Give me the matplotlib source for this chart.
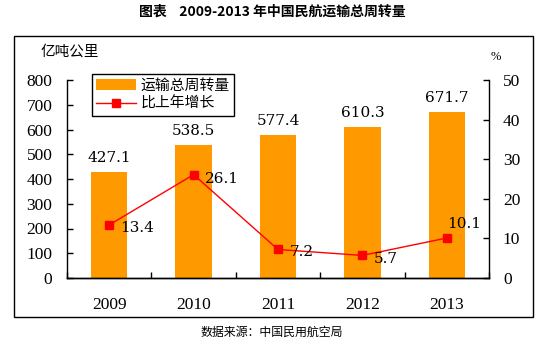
import matplotlib
matplotlib.use("Agg")
import matplotlib.pyplot as plt
from matplotlib.patches import Rectangle

plt.rcParams['font.family'] = ['Noto Sans CJK SC', 'DejaVu Sans']

# data
years = ['2009', '2010', '2011', '2012', '2013']
turnover = [427.1, 538.5, 577.4, 610.3, 671.7]   # 亿吨公里
growth = [13.4, 26.1, 7.2, 5.7, 10.1]            # %
left_ticks = [0, 100, 200, 300, 400, 500, 600, 700, 800]
right_ticks = [0, 10, 20, 30, 40, 50]

BAR_COLOR = '#FF9900'
LINE_COLOR = '#FF0000'
NUM_FONT = 'Liberation Serif'
VAL_FONT = 'DejaVu Serif'

W, H = 554, 346
fig = plt.figure(figsize=(W / 100, H / 100), dpi=100)

# outer frame around the chart
fig.add_artist(Rectangle((14 / W, 1 - 317 / H), 519 / W, 281 / H,
                         transform=fig.transFigure, fill=False,
                         edgecolor='black', linewidth=1.0))

ax = fig.add_axes([67 / W, 1 - 278 / H, 422 / W, 198 / H])
ax2 = ax.twinx()

x = list(range(len(years)))
bars = ax.bar(x, turnover, width=0.43, color=BAR_COLOR, label='运输总周转量', zorder=2)
line, = ax2.plot(x, growth, color=LINE_COLOR, linewidth=1.0, marker='s',
                 markersize=5.5, label='比上年增长', zorder=3)

ax.set_xlim(-0.5, len(years) - 0.5)
ax.set_ylim(0, 800)
ax2.set_ylim(0, 50)
ax.set_yticks(left_ticks)
ax2.set_yticks(right_ticks)
ax.set_xticks(x)
ax.set_xticklabels(years)
ax.set_xticks([i - 0.5 for i in range(len(years) + 1)], minor=True)

for a in (ax, ax2):
    a.spines['top'].set_visible(False)
    for s in a.spines.values():
        s.set_linewidth(1.0)
        s.set_color('black')
ax.spines['right'].set_visible(False)
ax2.spines['left'].set_visible(False)

ax.tick_params(axis='x', which='major', length=0, pad=14)
ax.tick_params(axis='x', which='minor', direction='in', length=4.5, width=1.0)
ax.tick_params(axis='y', direction='in', length=4.5, width=1.0, pad=10.5)
ax2.tick_params(axis='y', direction='in', length=4.5, width=1.0, pad=10)
for lab in ax.get_xticklabels() + ax.get_yticklabels() + ax2.get_yticklabels():
    lab.set_fontfamily(NUM_FONT)
    lab.set_fontsize(12.5)

# value labels over the bars
for xi, v in zip(x, turnover):
    ax.annotate(f'{v:.1f}', (xi, v), xytext=(0, 10), textcoords='offset points',
                ha='center', va='center', fontsize=11, family=VAL_FONT)

# growth labels beside the markers
offsets = [(8, -2.5), (8, -3), (8.5, -2), (8.5, -2.5), (0, 10)]
for xi, g, (dx, dy) in zip(x, growth, offsets):
    ax2.annotate(f'{g:.1f}', (xi, g), xytext=(dx, dy), textcoords='offset points',
                 ha='left', va='center', fontsize=11, family=VAL_FONT)

leg = ax.legend([bars, line], ['运输总周转量', '比上年增长'], loc='upper left',
                bbox_to_anchor=(0.059, 1.03), borderaxespad=0, fancybox=False,
                edgecolor='black', framealpha=1, fontsize=10.7, borderpad=0.3,
                handlelength=2.7, handletextpad=0.25, labelspacing=0.3)
leg.get_frame().set_linewidth(1.0)
leg.set_zorder(5)

fig.text(41 / W, 1 - 52 / H, '亿吨公里', ha='left', va='center', fontsize=10.5)
fig.text(496 / W, 1 - 57 / H, '%', ha='center', va='center', fontsize=9,
         family=NUM_FONT)
fig.text(272 / W, 1 - 12 / H, '图表    2009-2013 年中国民航运输总周转量',
         ha='center', va='center', fontsize=10, fontweight='bold')
fig.text(272 / W, 1 - 332 / H, '数据来源：中国民用航空局', ha='center',
         va='center', fontsize=8.6)

fig.savefig('out.png', dpi=100)
